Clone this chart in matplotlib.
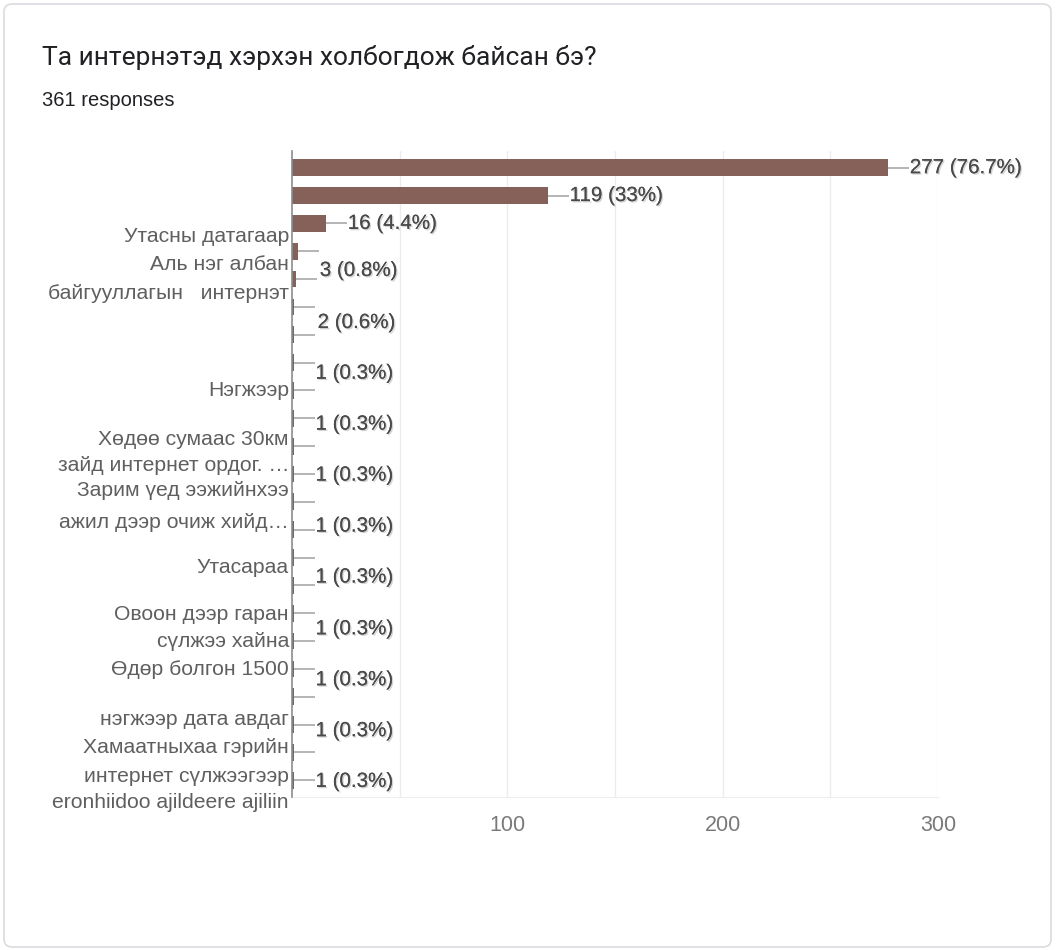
import matplotlib
matplotlib.use("Agg")
import matplotlib.pyplot as plt
import matplotlib.transforms as mtransforms
import matplotlib.patheffects as pe
from matplotlib.patches import FancyBboxPatch

# --- data -------------------------------------------------------------
title = "Та интернэтэд хэрхэн холбогдож байсан бэ?"
subtitle = "361 responses"
total_responses = 361

# response counts, one per answer row (top to bottom)
counts = [277, 119, 16, 3, 2,
          1, 1, 1, 1, 1, 1, 1, 1, 1,
          1, 1, 1, 1, 1, 1, 1, 1, 1]

# visible (wrapped / truncated) category label lines
label_lines = [
    "Утасны датагаар",
    "Аль нэг албан",
    "байгууллагын   интернэт",
    "Нэгжээр",
    "Хөдөө сумаас 30км",
    "зайд интернет ордог. …",
    "Зарим үед ээжийнхээ",
    "ажил дээр очиж хийд…",
    "Утасараа",
    "Овоон дээр гаран",
    "сүлжээ хайна",
    "Өдөр болгон 1500",
    "нэгжээр дата авдаг",
    "Хамаатныхаа гэрийн",
    "интернет сүлжээгээр",
    "eronhiidoo ajildeere ajiliin",
]
# row coordinate at which each label line sits
label_rows = [2.47, 3.48, 4.52, 7.99, 9.75, 10.68, 11.61, 12.75,
              14.37, 16.06, 17.0, 18.03, 19.8, 20.83, 21.86, 22.8]

# rows whose value annotation is shown, and where the annotation sits
annotated_rows = [0, 1, 2, 3, 4, 5, 7, 9, 11, 13, 15, 17, 19, 21]
annotation_rows = [0, 1, 2, 3.69, 5.56, 7.38, 9.21, 11.04, 12.87,
                   14.7, 16.56, 18.39, 20.22, 22.04]

x_ticks = [100, 200, 300]

# --- styling ----------------------------------------------------------
bar_color = "#866159"
label_font = "Liberation Sans"

fig = plt.figure(figsize=(10.56, 9.5), dpi=100)
W, H = 1056, 950

# card outline
card = FancyBboxPatch((4 / W, 3 / H), (W - 9) / W, (H - 7) / H,
                      boxstyle="round,pad=0,rounding_size=0.008",
                      transform=fig.transFigure, facecolor="none",
                      edgecolor="#dadce0", linewidth=1.2, zorder=0)
fig.patches.append(card)

fig.text(42 / W, 1 - 57 / H, title, fontsize=19, color="#202124",
         family="Roboto", va="center", ha="left")
fig.text(42 / W, 1 - 101 / H, subtitle, fontsize=14.5, color="#202124",
         family=label_font, va="center", ha="left")

ax = fig.add_axes([292 / W, 1 - 797 / H, (938 - 292) / W, (797 - 151) / H])
ax.set_facecolor("none")

rows = list(range(len(counts)))
ax.barh(rows, counts, height=0.6, color=bar_color, zorder=3)

ax.set_xlim(0, 300)
ax.set_ylim(len(counts) - 0.4, -0.6)
ax.set_xticks(x_ticks)
ax.set_xticks([50, 150, 250], minor=True)
ax.set_yticks([])
ax.grid(axis="x", which="both", color="#ececec", linewidth=1, zorder=0)
ax.tick_params(axis="x", which="both", length=0, pad=13,
               labelsize=15.5, labelcolor="#7a7a7a")
for lbl in ax.get_xticklabels():
    lbl.set_family(label_font)

for side in ("top", "right"):
    ax.spines[side].set_visible(False)
ax.spines["bottom"].set_color("#eeeeee")
ax.spines["left"].set_color("#8c8c8c")
ax.spines["left"].set_linewidth(1.2)
ax.spines["left"].set_zorder(4)

# leader lines from each bar end
lead = 9.5
for r, v in zip(rows, counts):
    ax.plot([v, v + lead], [r, r], color="#a0a0a0", lw=1.1, zorder=2,
            solid_capstyle="butt")

# value annotations
shadow = [pe.withSimplePatchShadow(offset=(1, -1), shadow_rgbFace="#b8b8b8",
                                   alpha=0.6), pe.Normal()]
for r, pos in zip(annotated_rows, annotation_rows):
    v = counts[r]
    pct = round(100 * v / total_responses, 1)
    txt = f"{v} ({pct:g}%)"
    ax.text(v + lead + 0.4, pos, txt, fontsize=14.8, color="#4a4a4a",
            family=label_font, va="center", ha="left", zorder=5,
            path_effects=shadow)

# category labels
trans = mtransforms.blended_transform_factory(ax.transAxes, ax.transData)
offset = mtransforms.ScaledTranslation(-3 / 100, 0, fig.dpi_scale_trans)
for text, pos in zip(label_lines, label_rows):
    ax.text(0, pos, text, transform=trans + offset, fontsize=15.2,
            color="#5f5f5f", family=label_font, ha="right", va="center",
            clip_on=False)

fig.savefig("out.png", dpi=100, facecolor="white")
